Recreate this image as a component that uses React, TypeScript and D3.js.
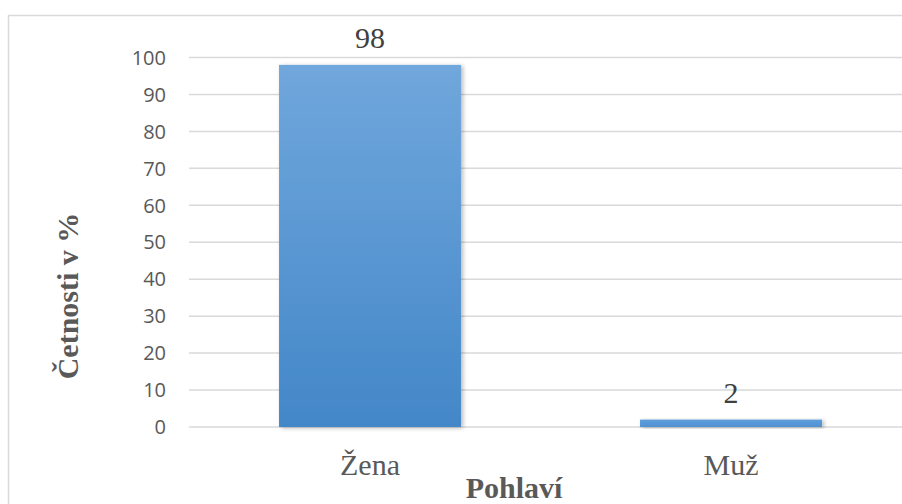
import React from "react";
import * as d3 from "d3";

const categories: string[] = ["Žena", "Muž"];
const values: number[] = [98, 2];
const yTicks: number[] = [0, 10, 20, 30, 40, 50, 60, 70, 80, 90, 100];
const yTitle = "Četnosti v %";
const xTitle = "Pohlaví";

const W = 902;
const H = 504;

export default function App() {
  const x = d3
    .scaleBand<string>()
    .domain(categories)
    .range([189.5, 911.5])
    .paddingInner(0.496)
    .paddingOuter(0.248);
  const y = d3.scaleLinear().domain([0, 100]).range([427, 57.5]);

  return (
    <svg
      width={W}
      height={H}
      style={{ position: "absolute", left: 0, top: 0, background: "#fff" }}
    >
      <defs>
        <linearGradient id="barGrad" x1="0" y1="0" x2="0" y2="1">
          <stop offset="0%" stopColor="#70a7dc" />
          <stop offset="100%" stopColor="#4387c8" />
        </linearGradient>
        <linearGradient id="barGradSmall" x1="0" y1="0" x2="0" y2="1">
          <stop offset="0%" stopColor="#5d9edb" />
          <stop offset="100%" stopColor="#4f92d2" />
        </linearGradient>
        <filter id="shadow" x="-10%" y="-10%" width="130%" height="130%">
          <feDropShadow dx="2" dy="1" stdDeviation="2" floodColor="#000" floodOpacity="0.28" />
        </filter>
      </defs>
      <rect x={8.5} y={15.5} width={1000} height={600} fill="#fff" stroke="#d9d9d9" strokeWidth={1.5} />
      {yTicks.map((t) => (
        <g key={t}>
          <line x1={189} x2={W} y1={y(t)} y2={y(t)} stroke="#d9d9d9" strokeWidth={1.5} />
          <text
            x={166}
            y={y(t)}
            dy="0.36em"
            textAnchor="end"
            fontFamily="'Open Sans', sans-serif"
            fontSize={20}
            fill="#595959"
          >
            {t}
          </text>
        </g>
      ))}
      {categories.map((c, i) => (
        <g key={c}>
          <rect
            x={x(c)}
            y={y(values[i])}
            width={x.bandwidth()}
            height={y(0) - y(values[i])}
            fill={values[i] > 10 ? "url(#barGrad)" : "url(#barGradSmall)"}
            filter="url(#shadow)"
          />
          <text
            x={(x(c) as number) + x.bandwidth() / 2}
            y={y(values[i]) - 17}
            textAnchor="middle"
            fontFamily="'Liberation Serif', 'Times New Roman', serif"
            fontSize={30}
            fill="#404040"
          >
            {values[i]}
          </text>
          <text
            x={(x(c) as number) + x.bandwidth() / 2}
            y={475}
            textAnchor="middle"
            fontFamily="'Liberation Serif', 'Times New Roman', serif"
            fontSize={30}
            fill="#595959"
          >
            {c}
          </text>
        </g>
      ))}
      <text
        x={514}
        y={498}
        textAnchor="middle"
        fontFamily="'Liberation Serif', 'Times New Roman', serif"
        fontSize={30}
        fontWeight="bold"
        fill="#595959"
      >
        {xTitle}
      </text>
      <text
        transform="translate(78,296) rotate(-90)"
        textAnchor="middle"
        fontFamily="'Liberation Serif', 'Times New Roman', serif"
        fontSize={30}
        fontWeight="bold"
        fill="#595959"
      >
        {yTitle}
      </text>
    </svg>
  );
}
